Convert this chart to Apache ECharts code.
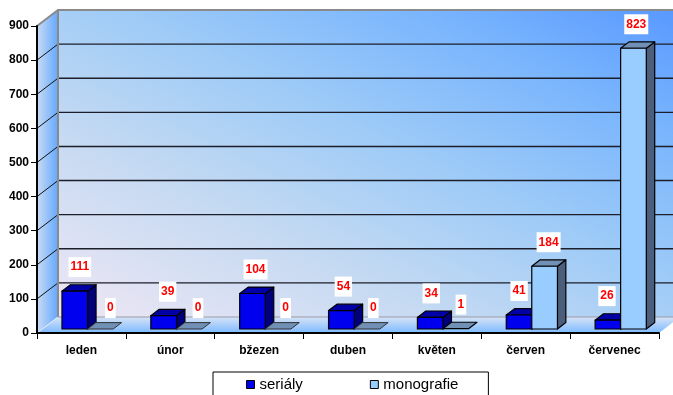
<!DOCTYPE html>
<html>
<head>
<meta charset="utf-8">
<script src="https://cdn.jsdelivr.net/npm/echarts@6/dist/echarts.min.js"></script>
<style>
  html, body { margin: 0; padding: 0; background: #fff; }
  #chart { width: 673px; height: 395px; }
</style>
</head>
<body>
<div id="chart"></div>
<script>
// Monthly counts: serials vs. monographs
const months = ['leden', 'únor', 'bžezen', 'duben', 'květen', 'červen', 'červenec'];
const serialy = [111, 39, 104, 54, 34, 41, 26];
const monografie = [0, 0, 0, 0, 1, 184, 823];
const seriesNames = ['seriály', 'monografie'];
const Y_MAX = 900;
const Y_STEP = 100;

// Pseudo-3D projection: depth vector of the box (front plane -> back wall)
const DEPTH_X = 21, DEPTH_Y = -16;
const BAR_T0 = 0.25, BAR_T1 = 0.65;          // bar front / back depth
const BAR_W = 0.289;                          // bar width as share of band
const BAR_OFF = [-0.278, 0.009];              // bar left edge from band centre
const FONT = '"Liberation Sans", Arial, sans-serif';

const barColors = [
  { front: '#0000ee', top: '#0000a6', side: '#00007c' },
  { front: '#99ccff', top: '#7090b6', side: '#4b5f7c' }
];

function P(x, y, t) { return [x + t * DEPTH_X, y + t * DEPTH_Y]; }

function barBox(api, i, v, s) {
  const band = api.size([1, 0])[0];
  const c = api.coord([i, v]);
  const b = api.coord([i, 0]);
  const xl = c[0] + BAR_OFF[s] * band;
  return { xl: xl, xr: xl + BAR_W * band, yt: c[1], yb: b[1] };
}

// Gradient running bottom-left -> top-right with bands parallel to the other diagonal
function diagonalGradient(x0, y0, x1, y1, stops) {
  const w = x1 - x0, h = y1 - y0;
  const cx = (x0 + x1) / 2, cy = (y0 + y1) / 2;
  const len = Math.sqrt(w * w + h * h);
  const dx = h / len, dy = -w / len;
  const half = (w * h) / len;
  return new echarts.graphic.LinearGradient(
    cx - dx * half, cy - dy * half, cx + dx * half, cy + dy * half, stops, true);
}

function renderWalls(params, api) {
  const cs = params.coordSys;
  const x0 = cs.x, x1 = cs.x + cs.width;
  const yb = api.coord([0, 0])[1];
  const yt = api.coord([0, Y_MAX])[1];
  const children = [];
  const tl = P(x0, yt, 1), tr = P(x1, yt, 1), bl = P(x0, yb, 1), br = P(x1, yb, 1);

  children.push({
    type: 'polygon',
    shape: { points: [tl, tr, br, bl] },
    style: {
      fill: diagonalGradient(tl[0], tl[1], br[0], br[1], [
        { offset: 0, color: '#eee7f4' },
        { offset: 0.3, color: '#c6daf2' },
        { offset: 0.55, color: '#9ecbf7' },
        { offset: 0.8, color: '#78b4fd' },
        { offset: 1, color: '#5898ff' }
      ])
    }
  });
  children.push({
    type: 'polygon',
    shape: { points: [[x0, yb], [x0, yt], tl, bl] },
    style: {
      fill: new echarts.graphic.LinearGradient(0, 0, 1, 0, [
        { offset: 0, color: '#c9dcf3' },
        { offset: 1, color: '#63a8ff' }
      ])
    }
  });
  children.push({
    type: 'polygon',
    shape: { points: [[x0, yb], [x1, yb], br, bl] },
    style: {
      fill: new echarts.graphic.LinearGradient(0, 0, 0, 1, [
        { offset: 0, color: '#d6e3f6' },
        { offset: 1, color: '#7cbaff' }
      ])
    }
  });

  for (let v = Y_STEP; v < Y_MAX; v += Y_STEP) {
    const y = api.coord([0, v])[1];
    const a = P(x0, y, 1), b = P(x1, y, 1);
    children.push({
      type: 'line',
      shape: { x1: a[0], y1: a[1], x2: b[0], y2: b[1] },
      style: { stroke: '#1c1f2a', lineWidth: 1.4 }
    });
    children.push({
      type: 'line',
      shape: { x1: x0, y1: y, x2: a[0], y2: a[1] },
      style: { stroke: '#111', lineWidth: 1 }
    });
  }

  // grey frame edges of the box
  const edge = { stroke: '#8a8a8a', lineWidth: 2, fill: null };
  children.push({ type: 'polyline', shape: { points: [[x0, yt], tl, tr] }, style: edge });
  children.push({ type: 'line', shape: { x1: tl[0], y1: tl[1], x2: bl[0], y2: bl[1] }, style: edge });
  children.push({ type: 'line', shape: { x1: bl[0], y1: bl[1], x2: br[0], y2: br[1] },
    style: { stroke: '#9a9aa8', lineWidth: 1.2 } });
  children.push({ type: 'line', shape: { x1: x0, y1: yb, x2: bl[0], y2: bl[1] },
    style: { stroke: '#e8ecf4', lineWidth: 1 } });

  return { type: 'group', children: children };
}

function makeBarRenderer(s) {
  const col = barColors[s];
  return function (params, api) {
    const i = api.value(0), v = api.value(1);
    const g = barBox(api, i, v, s);
    const f0 = BAR_T0, f1 = BAR_T1;
    const stroke = { stroke: '#000', lineWidth: 1.2, lineJoin: 'round' };
    const children = [];
    if (g.yb - g.yt > 0.5) {
      children.push({
        type: 'polygon',
        shape: { points: [P(g.xr, g.yt, f0), P(g.xr, g.yt, f1), P(g.xr, g.yb, f1), P(g.xr, g.yb, f0)] },
        style: Object.assign({ fill: col.side }, stroke)
      });
    }
    children.push({
      type: 'polygon',
      shape: { points: [P(g.xl, g.yt, f0), P(g.xr, g.yt, f0), P(g.xr, g.yt, f1), P(g.xl, g.yt, f1)] },
      style: Object.assign({ fill: col.top }, stroke, v === 0 ? { stroke: '#333', lineWidth: 1 } : {})
    });
    if (g.yb - g.yt > 0.5) {
      children.push({
        type: 'polygon',
        shape: { points: [P(g.xl, g.yt, f0), P(g.xr, g.yt, f0), P(g.xr, g.yb, f0), P(g.xl, g.yb, f0)] },
        style: Object.assign({ fill: col.front }, stroke)
      });
    }
    return { type: 'group', children: children };
  };
}

function renderLabel(params, api) {
  const i = api.value(0), v = api.value(1), s = api.value(2);
  const g = barBox(api, i, v, s);
  const shift = s === 0 ? 5 - i : 10 - 1.2 * i;
  const front = P((g.xl + g.xr) / 2, g.yt, BAR_T0);
  return {
    type: 'text',
    style: {
      text: String(v),
      x: front[0] + shift,
      y: front[1] - (v === 0 ? 21 : 24),
      align: 'center',
      verticalAlign: 'middle',
      fill: '#ff0000',
      font: 'bold 12px ' + FONT,
      backgroundColor: '#ffffff',
      padding: [4, 2]
    }
  };
}

const values = [serialy, monografie];
const chart = echarts.init(document.getElementById('chart'), null, { renderer: 'canvas' });

chart.setOption({
  animation: false,
  backgroundColor: '#ffffff',
  grid: { left: 37, right: 14, top: 26, bottom: 62, containLabel: false },
  xAxis: {
    type: 'category',
    data: months,
    z: 10,
    axisLine: { show: true, lineStyle: { color: '#000', width: 2 } },
    axisTick: { show: true, length: 6, lineStyle: { color: '#000', width: 1 } },
    axisLabel: { interval: 0, margin: 12, color: '#000', fontWeight: 'bold', fontSize: 12, fontFamily: FONT },
    splitLine: { show: false }
  },
  yAxis: {
    type: 'value',
    min: 0,
    max: Y_MAX,
    interval: Y_STEP,
    z: 10,
    axisLine: { show: true, lineStyle: { color: '#000', width: 2 } },
    axisTick: { show: true, length: 6, lineStyle: { color: '#000', width: 1 } },
    axisLabel: { margin: 8, color: '#000', fontWeight: 'bold', fontSize: 12, fontFamily: FONT },
    splitLine: { show: false }
  },
  legend: {
    left: 213,
    top: 372,
    padding: [5, 30, 10, 33],
    itemGap: 67,
    itemWidth: 8,
    itemHeight: 8,
    icon: 'rect',
    borderColor: '#000',
    borderWidth: 1,
    backgroundColor: '#fff',
    textStyle: { fontSize: 15, color: '#000', fontFamily: FONT },
    data: seriesNames.map(function (n, s) {
      return { name: n, itemStyle: { color: barColors[s].front, borderColor: '#000', borderWidth: 1 } };
    })
  },
  series: [
    {
      type: 'custom',
      name: 'box',
      z: 1,
      silent: true,
      renderItem: renderWalls,
      data: [[0, 0]]
    },
    {
      type: 'custom',
      name: seriesNames[0],
      z: 3,
      itemStyle: { color: barColors[0].front, borderColor: '#000', borderWidth: 1 },
      renderItem: makeBarRenderer(0),
      encode: { x: 0, y: 1 },
      data: serialy.map(function (v, i) { return [i, v]; })
    },
    {
      type: 'custom',
      name: seriesNames[1],
      z: 4,
      itemStyle: { color: barColors[1].front, borderColor: '#000', borderWidth: 1 },
      renderItem: makeBarRenderer(1),
      encode: { x: 0, y: 1 },
      data: monografie.map(function (v, i) { return [i, v]; })
    },
    {
      type: 'custom',
      name: 'values',
      z: 6,
      silent: true,
      renderItem: renderLabel,
      encode: { x: 0, y: 1 },
      data: values.flatMap(function (arr, s) {
        return arr.map(function (v, i) { return [i, v, s]; });
      })
    }
  ]
});
</script>
</body>
</html>
